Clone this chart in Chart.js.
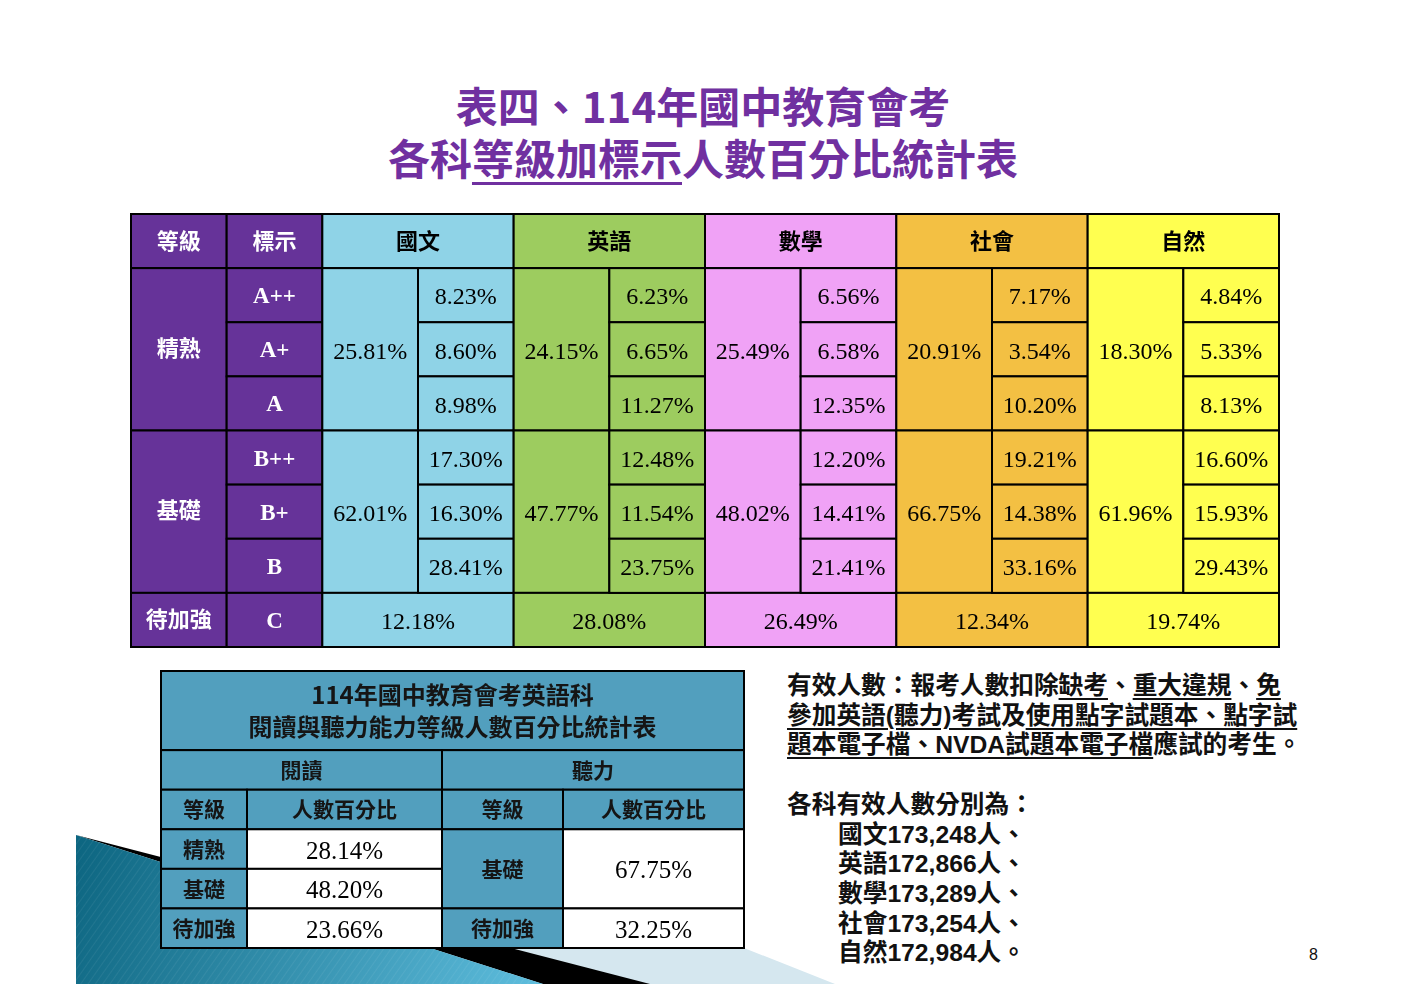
<html lang="zh-Hant">
<head>
<meta charset="UTF-8">
<title>表四、114年國中教育會考 各科等級加標示人數百分比統計表</title>
<script src="https://cdn.jsdelivr.net/npm/chart.js"></script>
<style>
    body { margin: 0; background: #fff; }
    #page { position: relative; width: 1406px; height: 998px; overflow: hidden; background: #fff; }
    .title { position: absolute; left: 0; width: 1406px; text-align: center; color: #7030A0;
             font-family: "Noto Sans CJK TC", sans-serif; font-weight: 700; font-size: 42px; line-height: 52px; }
    .title u { text-decoration-thickness: 2.5px; text-underline-offset: 7px; }
    canvas { position: absolute; }
    #note { position: absolute; left: 787px; top: 671px; white-space: nowrap; color: #111;
            font-family: "Liberation Sans", "Noto Sans CJK TC", sans-serif; font-weight: 700;
            font-size: 24.7px; line-height: 29.7px; }
    #note u { text-decoration-thickness: 1.5px; text-underline-offset: 4px; }
    #note .indent { padding-left: 51px; }
    #pageNo { position: absolute; left: 1309px; top: 946px; font-family: "Liberation Sans", sans-serif; font-size: 16px; color: #111; }
</style>
</head>
<body>
<div id="page">
    <svg width="1406" height="998" style="position:absolute;left:0;top:0">
        <defs>
            <linearGradient id="swoosh" gradientUnits="userSpaceOnUse" x1="76" y1="835" x2="540" y2="984">
                <stop offset="0" stop-color="#0C6580"/>
                <stop offset="1" stop-color="#5EBDDD"/>
            </linearGradient>
            <pattern id="stripes" width="6" height="6" patternUnits="userSpaceOnUse" patternTransform="rotate(35)">
                <line x1="0" y1="0" x2="0" y2="6" stroke="#ffffff" stroke-width="1" stroke-opacity="0.12"/>
            </pattern>
        </defs>
        <polygon points="161,870 744,948 835,984 161,984" fill="#D5E7EF"/>
        <polygon points="76,835 650,984 543,984" fill="#000"/>
        <polygon points="76,835 543,984 76,984" fill="url(#swoosh)"/>
        <polygon points="76,835 543,984 76,984" fill="url(#stripes)"/>
    </svg>

    <div class="title" style="top:79px">表四、114年國中教育會考</div>
    <div class="title" style="top:131px">各科<u>等級加標示</u>人數百分比統計表</div>

    <canvas id="mainTable" width="1152" height="437" style="left:129px;top:212px"></canvas>
    <canvas id="englishTable" width="587" height="281" style="left:159px;top:669px"></canvas>

    <div id="note"></div>
    <div id="pageNo">8</div>
</div>

<script>
    // Main table data
    const subjects = ['國文', '英語', '數學', '社會', '自然'];
    const levels = ['精熟', '基礎', '待加強'];
    const marks = ['A++', 'A+', 'A', 'B++', 'B+', 'B', 'C'];

    const totalProficient = [25.81, 24.15, 25.49, 20.91, 18.30];
    const totalBasic = [62.01, 47.77, 48.02, 66.75, 61.96];
    const totalNeedsWork = [12.18, 28.08, 26.49, 12.34, 19.74];

    const markAPlusPlus = [8.23, 6.23, 6.56, 7.17, 4.84];
    const markAPlus = [8.60, 6.65, 6.58, 3.54, 5.33];
    const markA = [8.98, 11.27, 12.35, 10.20, 8.13];
    const markBPlusPlus = [17.30, 12.48, 12.20, 19.21, 16.60];
    const markBPlus = [16.30, 11.54, 14.41, 14.38, 15.93];
    const markB = [28.41, 23.75, 21.41, 33.16, 29.43];

    // English reading / listening table data
    const englishTitle = ['114年國中教育會考英語科', '閱讀與聽力能力等級人數百分比統計表'];
    const englishParts = ['閱讀', '聽力'];
    const readingLevels = ['精熟', '基礎', '待加強'];
    const readingValues = [28.14, 48.20, 23.66];
    const listeningLevels = ['基礎', '待加強'];
    const listeningValues = [67.75, 32.25];

    // Valid test takers
    const validCounts = [173248, 172866, 173289, 173254, 172984];

    // styles
    const purple = '#663399';
    const subjectColors = ['#8FD3E7', '#9DCC5F', '#F0A2F6', '#F3C043', '#FFFF50'];
    const teal = '#529FBE';
    const cjkBold = 'bold 22px "Noto Sans CJK TC", sans-serif';
    const cjkBoldSmall = 'bold 21px "Noto Sans CJK TC", sans-serif';
    const cjkTitle = 'bold 24px "Noto Sans CJK TC", sans-serif';
    const serif = '24px "Liberation Serif", "Times New Roman", serif';
    const serifBig = '25px "Liberation Serif", "Times New Roman", serif';
    const serifBold = 'bold 23px "Liberation Serif", "Times New Roman", serif';
    const englishColWidths = [86, 195, 121, 181];

    const pct = v => v.toFixed(2) + '%';

    // Plugin that paints the cell list through the chart's x / y scales
    const tablePlugin = {
        id: 'tableCells',
        afterDraw(chart, args, opts) {
            const ctx = chart.ctx;
            const xs = chart.scales.x, ys = chart.scales.y;
            opts.cells.forEach(c => {
                const left = xs.getPixelForValue(c.x0), right = xs.getPixelForValue(c.x1);
                const top = ys.getPixelForValue(c.y0), bottom = ys.getPixelForValue(c.y1);
                ctx.save();
                ctx.fillStyle = c.bg;
                ctx.fillRect(left, top, right - left, bottom - top);
                ctx.strokeStyle = '#000';
                ctx.lineWidth = opts.lineWidth;
                ctx.strokeRect(left, top, right - left, bottom - top);
                if (c.text) {
                    const lines = [].concat(c.text);
                    ctx.font = c.font;
                    ctx.fillStyle = c.color;
                    ctx.textAlign = 'center';
                    ctx.textBaseline = 'middle';
                    const cx = (left + right) / 2, cy = (top + bottom) / 2 + (c.dy || 0);
                    const lh = c.lineHeight || 32;
                    lines.forEach((t, i) => {
                        ctx.fillText(t, cx, cy + (i - (lines.length - 1) / 2) * lh);
                    });
                }
                ctx.restore();
            });
        }
    };

    function makeTable(id, xMax, yMax, cells, lineWidth) {
        const ctx = document.getElementById(id).getContext('2d');
        return new Chart(ctx, {
            type: 'scatter',
            data: { datasets: [{ data: [] }] },
            options: {
                responsive: false,
                animation: false,
                events: [],
                layout: { padding: 2 },
                plugins: {
                    legend: { display: false },
                    tooltip: { enabled: false },
                    tableCells: { cells: cells, lineWidth: lineWidth }
                },
                scales: {
                    x: { type: 'linear', min: 0, max: xMax, display: false },
                    y: { type: 'linear', min: 0, max: yMax, reverse: true, display: false }
                }
            },
            plugins: [tablePlugin]
        });
    }

    // build main table cells (column and row units)
    const mainCells = [];
    mainCells.push({ x0: 0, x1: 1, y0: 0, y1: 1, bg: purple, text: '等級', font: cjkBold, color: '#fff' });
    mainCells.push({ x0: 1, x1: 2, y0: 0, y1: 1, bg: purple, text: '標示', font: cjkBold, color: '#fff' });
    mainCells.push({ x0: 0, x1: 1, y0: 1, y1: 4, bg: purple, text: levels[0], font: cjkBold, color: '#fff', dy: -2 });
    mainCells.push({ x0: 0, x1: 1, y0: 4, y1: 7, bg: purple, text: levels[1], font: cjkBold, color: '#fff', dy: -2 });
    mainCells.push({ x0: 0, x1: 1, y0: 7, y1: 8, bg: purple, text: levels[2], font: cjkBold, color: '#fff', dy: -1 });
    marks.forEach((m, i) => {
        mainCells.push({ x0: 1, x1: 2, y0: i + 1, y1: i + 2, bg: purple, text: m, font: serifBold, color: '#fff', dy: 2 });
    });
    const markRows = [markAPlusPlus, markAPlus, markA, markBPlusPlus, markBPlus, markB];
    subjects.forEach((s, k) => {
        const c0 = 2 + 2 * k, col = subjectColors[k];
        mainCells.push({ x0: c0, x1: c0 + 2, y0: 0, y1: 1, bg: col, text: s, font: cjkBold, color: '#000' });
        mainCells.push({ x0: c0, x1: c0 + 1, y0: 1, y1: 4, bg: col, text: pct(totalProficient[k]), font: serif, color: '#000', dy: 3 });
        mainCells.push({ x0: c0, x1: c0 + 1, y0: 4, y1: 7, bg: col, text: pct(totalBasic[k]), font: serif, color: '#000', dy: 3 });
        mainCells.push({ x0: c0, x1: c0 + 2, y0: 7, y1: 8, bg: col, text: pct(totalNeedsWork[k]), font: serif, color: '#000', dy: 3 });
        markRows.forEach((row, r) => {
            mainCells.push({ x0: c0 + 1, x1: c0 + 2, y0: r + 1, y1: r + 2, bg: col, text: pct(row[k]), font: serif, color: '#000', dy: 3 });
        });
    });
    makeTable('mainTable', 2 + 2 * subjects.length, marks.length + 1, mainCells, 2);

    // build English table cells (x in layout widths, y in row units)
    const ex = [0];
    englishColWidths.forEach(w => ex.push(ex[ex.length - 1] + w));
    const dark = '#151515';
    const engCells = [];
    engCells.push({ x0: ex[0], x1: ex[4], y0: 0, y1: 2, bg: teal, text: englishTitle, font: cjkTitle, color: dark, lineHeight: 32 });
    engCells.push({ x0: ex[0], x1: ex[2], y0: 2, y1: 3, bg: teal, text: englishParts[0], font: cjkBoldSmall, color: dark });
    engCells.push({ x0: ex[2], x1: ex[4], y0: 2, y1: 3, bg: teal, text: englishParts[1], font: cjkBoldSmall, color: dark });
    engCells.push({ x0: ex[0], x1: ex[1], y0: 3, y1: 4, bg: teal, text: '等級', font: cjkBoldSmall, color: dark });
    engCells.push({ x0: ex[1], x1: ex[2], y0: 3, y1: 4, bg: teal, text: '人數百分比', font: cjkBoldSmall, color: dark });
    engCells.push({ x0: ex[2], x1: ex[3], y0: 3, y1: 4, bg: teal, text: '等級', font: cjkBoldSmall, color: dark });
    engCells.push({ x0: ex[3], x1: ex[4], y0: 3, y1: 4, bg: teal, text: '人數百分比', font: cjkBoldSmall, color: dark });
    readingLevels.forEach((l, i) => {
        engCells.push({ x0: ex[0], x1: ex[1], y0: 4 + i, y1: 5 + i, bg: teal, text: l, font: cjkBoldSmall, color: dark });
        engCells.push({ x0: ex[1], x1: ex[2], y0: 4 + i, y1: 5 + i, bg: '#fff', text: pct(readingValues[i]), font: serifBig, color: '#000', dy: 3 });
    });
    // listening: 基礎 spans the two upper rows
    engCells.push({ x0: ex[2], x1: ex[3], y0: 4, y1: 6, bg: teal, text: listeningLevels[0], font: cjkBoldSmall, color: dark });
    engCells.push({ x0: ex[3], x1: ex[4], y0: 4, y1: 6, bg: '#fff', text: pct(listeningValues[0]), font: serifBig, color: '#000', dy: 3 });
    engCells.push({ x0: ex[2], x1: ex[3], y0: 6, y1: 7, bg: teal, text: listeningLevels[1], font: cjkBoldSmall, color: dark });
    engCells.push({ x0: ex[3], x1: ex[4], y0: 6, y1: 7, bg: '#fff', text: pct(listeningValues[1]), font: serifBig, color: '#000', dy: 3 });
    makeTable('englishTable', ex[4], 7, engCells, 2);

    // right-hand note
    const countLines = subjects.map((s, i) =>
        '<div class="indent">' + s + validCounts[i].toLocaleString('en-US') + '人' + (i < subjects.length - 1 ? '、' : '。') + '</div>');
    document.getElementById('note').innerHTML =
        '<div>有效人數：報考人數扣除<u>缺考</u>、<u>重大違規</u>、<u>免</u></div>' +
        '<div><u>參加英語(聽力)考試</u>及<u>使用點字試題本、點字試</u></div>' +
        '<div><u>題本電子檔、NVDA試題本電子檔</u>應試的考生。</div>' +
        '<div>&nbsp;</div>' +
        '<div>各科有效人數分別為：</div>' +
        countLines.join('');
</script>
</body>
</html>
